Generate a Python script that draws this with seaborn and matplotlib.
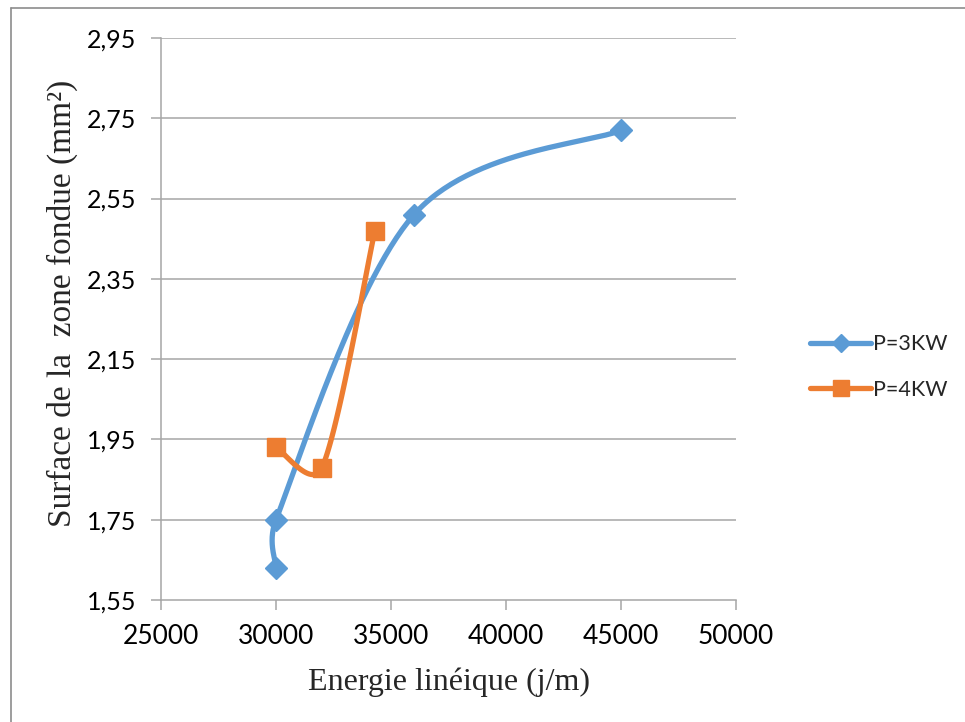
import numpy as np
import pandas as pd
import seaborn as sns
import matplotlib
matplotlib.use("Agg")
import matplotlib.pyplot as plt
from matplotlib.lines import Line2D
from matplotlib.ticker import FixedLocator, FuncFormatter

# Series data: linear energy (J/m) vs molten zone area (mm²)
energy_3kw = [30000, 30000, 36000, 45000]
surface_3kw = [1.63, 1.75, 2.51, 2.72]
energy_4kw = [30000, 32000, 34300]
surface_4kw = [1.93, 1.88, 2.47]
series_labels = ["P=3KW", "P=4KW"]
x_ticks = [25000, 30000, 35000, 40000, 45000, 50000]
y_ticks = [1.55, 1.75, 1.95, 2.15, 2.35, 2.55, 2.75, 2.95]

BLUE = "#5B9BD5"
ORANGE = "#ED7D31"
GRID = "#A6A6A6"

sns.set_style("white")
plt.rcParams["font.family"] = ["Lato", "DejaVu Sans"]

W, H = 965, 722
fig = plt.figure(figsize=(W / 100, H / 100), dpi=100)
ax = fig.add_axes([161 / W, 1 - 600 / H, (736 - 161) / W, (600 - 38) / H])
ax.set_xlim(x_ticks[0], x_ticks[-1])
ax.set_ylim(y_ticks[0], y_ticks[-1])


def smooth_curve(xs, ys, n=60):
    """Bezier smoothing in screen space with control arms limited to half a segment."""
    pts = ax.transData.transform(np.column_stack([xs, ys]))
    m = len(pts)
    out = []
    for i in range(m - 1):
        p0 = pts[i - 1] if i > 0 else pts[i]
        p1 = pts[i]
        p2 = pts[i + 1]
        p3 = pts[i + 2] if i + 2 < m else pts[i + 1]
        d12 = np.linalg.norm(p2 - p1)
        d02 = np.linalg.norm(p2 - p0)
        d13 = np.linalg.norm(p3 - p1)
        f0 = 1 / 6 if d02 / 6 < d12 / 2 else d12 / (2 * d02)
        f1 = 1 / 6 if d13 / 6 < d12 / 2 else d12 / (2 * d13)
        c1 = p1 + f0 * (p2 - p0)
        c2 = p2 - f1 * (p3 - p1)
        t = np.linspace(0, 1, n)[:, None]
        seg = ((1 - t) ** 3) * p1 + 3 * ((1 - t) ** 2) * t * c1 + 3 * (1 - t) * t ** 2 * c2 + t ** 3 * p2
        out.append(seg if i == 0 else seg[1:])
    curve = ax.transData.inverted().transform(np.vstack(out))
    return pd.DataFrame({"x": curve[:, 0], "y": curve[:, 1]})


# Horizontal gridlines
for yv in y_ticks[1:]:
    ax.axhline(yv, color=GRID, lw=1.1, zorder=0)

for xs, ys, color, marker, msize, lab in [
    (energy_3kw, surface_3kw, BLUE, "D", 11, series_labels[0]),
    (energy_4kw, surface_4kw, ORANGE, "s", 13.5, series_labels[1]),
]:
    curve = smooth_curve(xs, ys)
    sns.lineplot(data=curve, x="x", y="y", sort=False, estimator=None, ax=ax,
                 color=color, lw=3.8, solid_capstyle="round", zorder=3)
    ax.plot(xs, ys, ls="none", marker=marker, ms=msize, color=color,
            markeredgecolor=color, zorder=4)

# Axes styling
for side in ["top", "right"]:
    ax.spines[side].set_visible(False)
for side in ["left", "bottom"]:
    ax.spines[side].set_color(GRID)
    ax.spines[side].set_linewidth(1.1)

ax.xaxis.set_major_locator(FixedLocator(x_ticks))
ax.yaxis.set_major_locator(FixedLocator(y_ticks))
ax.xaxis.set_major_formatter(FuncFormatter(lambda v, p: f"{int(v)}"))
ax.yaxis.set_major_formatter(FuncFormatter(lambda v, p: f"{v:.2f}".replace(".", ",")))
ax.tick_params(axis="both", direction="out", length=7, width=1.1, color=GRID,
               labelcolor="black")
ax.tick_params(axis="x", bottom=True, pad=10, labelsize=19)
ax.tick_params(axis="y", left=True, pad=11, labelsize=18)

ax.set_xlabel("Energie linéique (j/m)", family="Liberation Serif", fontsize=23)
ax.set_ylabel("Surface de la  zone fondue (mm²)", family="Liberation Serif", fontsize=24)
ax.xaxis.set_label_coords(0.5, -0.12)
ax.yaxis.set_label_coords(-0.145, 0.528)

handles = [
    Line2D([], [], color=BLUE, lw=3.8, marker="D", ms=9, solid_capstyle="round"),
    Line2D([], [], color=ORANGE, lw=3.8, marker="s", ms=12, solid_capstyle="round"),
]
fig.legend(handles, series_labels, loc="center left", bbox_to_anchor=(791 / W, 1 - 367 / H),
           frameon=False, fontsize=15.5, handlelength=2.8, handletextpad=0.1, labelspacing=1.2)

# Outer frame (top and left edges)
fig.add_artist(Line2D([11 / W, 1], [1 - 8 / H, 1 - 8 / H], color="#8C8C8C", lw=1.2,
                      transform=fig.transFigure))
fig.add_artist(Line2D([11 / W, 11 / W], [0, 1 - 8 / H], color="#8C8C8C", lw=1.2,
                      transform=fig.transFigure))

fig.savefig("out.png", dpi=100)
